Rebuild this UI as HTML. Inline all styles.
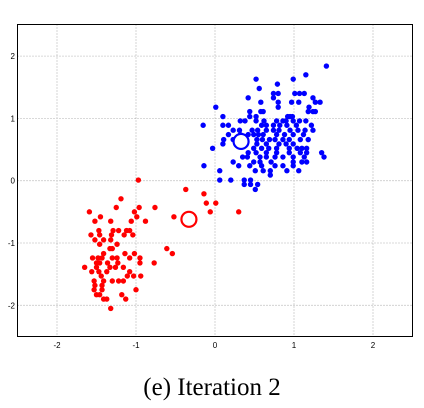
<!DOCTYPE html>
<html><head><meta charset="utf-8"><style>
html,body{margin:0;padding:0;background:#fff;width:424px;height:408px;overflow:hidden}
svg{display:block}
</style></head><body>
<svg id="chart" width="424" height="408" viewBox="0 0 424 408" xmlns="http://www.w3.org/2000/svg">
<g id="grid"></g>
<g id="ticks"></g>
<g id="marks"></g>
<rect x="17.5" y="24.5" width="395" height="312" fill="none" stroke="#000" stroke-width="1"/>
<text x="212" y="395" text-anchor="middle" font-family="'Liberation Serif',serif" font-size="25" fill="#000">(e) Iteration 2</text>
</svg>
<script>
const xTicks=[-2,-1,0,1,2];
const yTicks=[-2,-1,0,1,2];
const blueX=[1.41,1.15,0.52,0.99,0.79,0.56,0.74,0.80,1.01,1.07,1.13,0.42,0.74,1.24,0.58,0.80,0.97,1.06,1.27,1.33,0.01,0.80,1.19,1.24,0.44,0.58,0.61,1.18,1.27,0.10,0.44,0.52,0.92,0.95,0.98,-0.15,0.10,0.32,0.38,0.52,0.62,0.78,0.86,0.90,0.99,1.07,1.15,0.17,0.59,0.65,0.74,0.82,0.91,1.03,1.22,0.23,0.31,0.47,0.54,0.65,0.74,0.81,0.95,1.05,1.14,1.24,0.17,0.32,0.42,0.49,0.55,0.61,0.78,0.88,0.99,1.12,0.11,0.23,0.53,0.60,0.69,0.76,0.86,0.94,1.08,1.18,0.10,0.27,0.53,0.65,0.81,0.90,0.99,-0.03,0.49,0.59,0.68,0.78,0.94,1.04,1.10,1.16,0.42,0.52,0.65,0.78,0.94,1.08,1.16,1.35,0.35,0.41,0.57,0.65,0.76,0.86,0.99,1.13,1.38,0.23,0.49,0.57,0.71,0.99,1.10,1.16,-0.14,0.30,0.44,0.59,0.76,0.86,0.99,0.91,0.61,0.70,0.51,1.06,0.06,0.70,0.06,0.20,0.37,0.45,0.37,0.45,0.54,0.51];
const blueY=[1.84,1.70,1.63,1.63,1.55,1.48,1.40,1.40,1.40,1.40,1.40,1.33,1.33,1.33,1.26,1.26,1.26,1.26,1.26,1.26,1.18,1.18,1.18,1.11,1.11,1.11,1.11,1.11,1.11,1.03,1.03,1.03,1.03,1.03,1.03,0.89,0.89,0.96,0.96,0.96,0.96,0.96,0.96,0.96,0.96,0.96,0.96,0.89,0.89,0.89,0.89,0.89,0.89,0.89,0.89,0.81,0.81,0.81,0.81,0.81,0.81,0.81,0.81,0.81,0.81,0.81,0.74,0.74,0.74,0.74,0.74,0.74,0.74,0.74,0.74,0.74,0.66,0.66,0.66,0.66,0.66,0.66,0.66,0.66,0.66,0.66,0.59,0.59,0.59,0.59,0.59,0.59,0.59,0.52,0.52,0.52,0.52,0.52,0.52,0.52,0.52,0.52,0.45,0.45,0.45,0.45,0.45,0.45,0.45,0.45,0.38,0.38,0.38,0.38,0.38,0.38,0.38,0.38,0.38,0.30,0.30,0.30,0.30,0.30,0.30,0.30,0.24,0.24,0.24,0.24,0.24,0.24,0.24,0.16,0.16,0.16,0.16,0.16,0.16,0.09,0.01,0.01,0.01,0.01,-0.06,-0.06,-0.06,-0.14];
const redX=[-0.97,-0.37,-0.14,-1.19,-0.11,0.01,-1.59,-1.25,-0.96,-0.76,-1.02,-0.06,0.30,-1.45,-0.52,-0.99,-1.52,-1.32,-1.06,-0.88,-1.47,-1.29,-1.22,-1.12,-1.08,-1.57,-1.46,-1.31,-1.15,-1.04,-1.52,-1.41,-1.32,-1.24,-1.46,-0.61,-1.33,-1.30,-0.54,-1.41,-1.14,-1.02,-1.55,-1.48,-1.43,-1.30,-1.24,-0.95,-1.08,-1.65,-1.50,-1.46,-1.36,-1.23,-0.95,-0.77,-1.50,-1.33,-1.16,-1.26,-1.56,-1.47,-1.37,-1.08,-1.44,-1.11,-1.03,-0.94,-1.53,-1.41,-1.30,-1.22,-1.16,-1.52,-1.43,-1.53,-1.43,-1.00,-1.50,-1.46,-1.18,-1.41,-1.37,-1.13,-1.32];
const redY=[0.01,-0.14,-0.21,-0.29,-0.36,-0.36,-0.50,-0.43,-0.43,-0.43,-0.50,-0.50,-0.50,-0.58,-0.58,-0.58,-0.65,-0.65,-0.65,-0.65,-0.80,-0.80,-0.80,-0.80,-0.80,-0.87,-0.87,-0.87,-0.87,-0.87,-0.95,-0.95,-0.95,-1.02,-1.02,-1.09,-1.09,-1.09,-1.17,-1.17,-1.17,-1.17,-1.24,-1.24,-1.24,-1.24,-1.24,-1.24,-1.24,-1.39,-1.32,-1.32,-1.32,-1.32,-1.32,-1.32,-1.39,-1.39,-1.39,-1.39,-1.46,-1.46,-1.46,-1.46,-1.53,-1.53,-1.53,-1.53,-1.61,-1.61,-1.61,-1.61,-1.61,-1.68,-1.68,-1.75,-1.75,-1.75,-1.83,-1.83,-1.83,-1.90,-1.90,-1.90,-2.05];
const centroidX=[0.33,-0.33];
const centroidY=[0.63,-0.62];
const seriesColors=["#0000ff","#ff0000"];

const NS="http://www.w3.org/2000/svg";
const xS=v=>215+v*79;
const yS=v=>180.7-v*62.3;
function mk(tag,attrs,parent){const e=document.createElementNS(NS,tag);for(const k in attrs)e.setAttribute(k,attrs[k]);parent.appendChild(e);return e;}
const grid=document.getElementById('grid'),ticks=document.getElementById('ticks'),marks=document.getElementById('marks');
xTicks.forEach(t=>{
  const l=mk('line',{x1:xS(t),x2:xS(t),y1:24.5,y2:336.5,stroke:'#999','stroke-width':0.8,'stroke-dasharray':'1,2'},grid);
  
  
  const tx=mk('text',{x:xS(t),y:348,'text-anchor':'middle','font-family':'Liberation Sans, sans-serif','font-size':8},ticks);
  tx.textContent=t;
  
  
});
yTicks.forEach(t=>{
  const l=mk('line',{x1:17.5,x2:412.5,y1:yS(t),y2:yS(t),stroke:'#999','stroke-width':0.8,'stroke-dasharray':'1,2'},grid);
  
  
  const tx=mk('text',{x:15,y:yS(t)+3,'text-anchor':'end','font-family':'Liberation Sans, sans-serif','font-size':8},ticks);
  tx.textContent=t;
  
  
});
blueX.forEach((v,i)=>{
  const c=mk('circle',{cx:xS(v),cy:yS(blueY[i]),r:2.7,fill:seriesColors[0]},marks);
  
  
});
redX.forEach((v,i)=>{
  const c=mk('circle',{cx:xS(v),cy:yS(redY[i]),r:2.7,fill:seriesColors[1]},marks);
  
  
});
centroidX.forEach((v,i)=>{
  const c=mk('circle',{cx:xS(v),cy:yS(centroidY[i]),r:7.5,fill:'#fff',stroke:seriesColors[i],'stroke-width':2.2},marks);
  
  
});
</script>
</body></html>
